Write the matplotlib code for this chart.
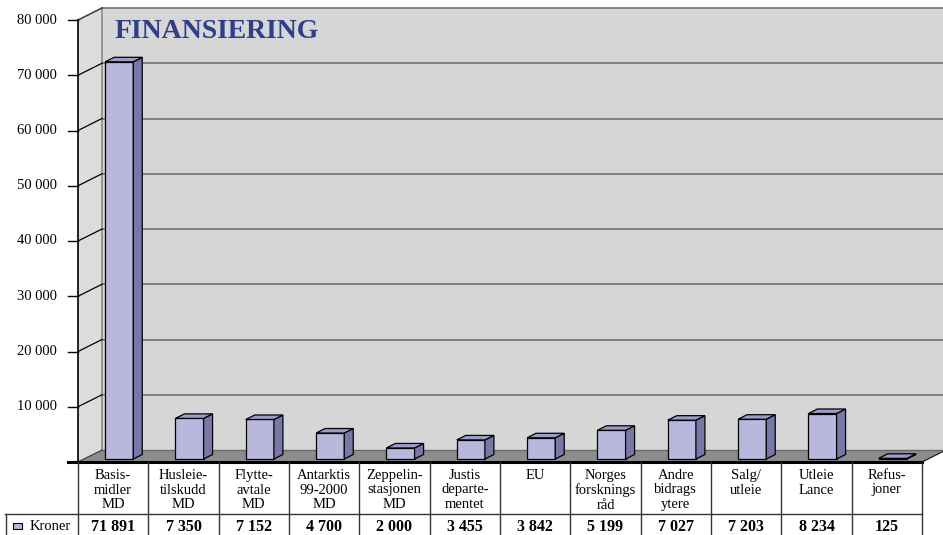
import matplotlib
matplotlib.use("Agg")
import matplotlib.pyplot as plt
from matplotlib.patches import Polygon, Rectangle

# data
categories = [
    "Basis-\nmidler\nMD", "Husleie-\ntilskudd\nMD", "Flytte-\navtale\nMD",
    "Antarktis\n99-2000\nMD", "Zeppelin-\nstasjonen\nMD", "Justis\ndeparte-\nmentet",
    "EU", "Norges\nforsknings\nråd", "Andre\nbidrags\nytere",
    "Salg/\nutleie", "Utleie\nLance", "Refus-\njoner",
]
kroner = [71891, 7350, 7152, 4700, 2000, 3455, 3842, 5199, 7027, 7203, 8234, 125]
value_labels = ["71 891", "7 350", "7 152", "4 700", "2 000", "3 455",
                "3 842", "5 199", "7 027", "7 203", "8 234", "125"]
y_ticks = [0, 10000, 20000, 30000, 40000, 50000, 60000, 70000, 80000]
y_tick_labels = ["", "10 000", "20 000", "30 000", "40 000", "50 000",
                 "60 000", "70 000", "80 000"]
title = "FINANSIERING"
series_name = "Kroner"

W, H = 943, 535
FONT = "Liberation Serif"
FRONT = "#b8b8dc"
SIDE = "#7878a6"
TOP = "#9c9ccc"
WALL = "#d6d6d6"
SIDEWALL = "#dcdcdc"
FLOOR = "#8c8c8c"

# plot area in pixels
PX_L, PX_R, PX_T, PX_B = 78, 922, 20, 462
n = len(categories)
ymax = 80000
px_per_x = (PX_R - PX_L) / n
px_per_y = (PX_B - PX_T) / ymax
# depth of the 3D box (24 px right, 12 px up)
D = 24 / px_per_x
DY = 12 / px_per_y

fig = plt.figure(figsize=(W / 100, H / 100), dpi=100)
fig.patch.set_facecolor("white")
ax = fig.add_axes([PX_L / W, (H - PX_B) / H, (PX_R - PX_L) / W, (PX_B - PX_T) / H])
ax.set_xlim(0, n)
ax.set_ylim(0, ymax)
ax.axis("off")

# side wall and back wall
ax.add_patch(Polygon([(0, 0), (D, DY), (D, ymax + DY), (0, ymax)], closed=True,
                     facecolor=SIDEWALL, edgecolor="none", clip_on=False, zorder=1))
ax.add_patch(Polygon([(D, DY), (n + D, DY), (n + D, ymax + DY), (D, ymax + DY)], closed=True,
                     facecolor=WALL, edgecolor="none", clip_on=False, zorder=1))
ax.plot([D, D], [DY, ymax + DY], color="#8a8a8a", lw=1.2, clip_on=False, zorder=2)
for v in y_ticks[1:]:
    ax.plot([D, n + D], [v + DY, v + DY], color="#7a7a7a", lw=1.3, clip_on=False, zorder=2)
    ax.plot([0, D], [v, v + DY], color="black", lw=0.9, clip_on=False, zorder=2)
ax.plot([0, D], [ymax, ymax + DY], color="#555555", lw=1.0, clip_on=False, zorder=2)

# floor
ax.add_patch(Polygon([(0, 0), (n, 0), (n + D, DY), (D, DY)], closed=True,
                     facecolor=FLOOR, edgecolor="none", clip_on=False, zorder=2))
ax.plot([D, n + D], [DY, DY], color="#6a6a6a", lw=1.0, clip_on=False, zorder=2)
ax.plot([0, D], [0, DY], color="#444444", lw=0.9, clip_on=False, zorder=2)
ax.plot([n, n + D], [0, DY], color="#222222", lw=0.9, clip_on=False, zorder=2)

# bars
bw = 0.4
f0, fd = 0.25, 0.375
for i, v in enumerate(kroner):
    x0 = i + 0.5 - bw / 2 + f0 * D
    y0 = f0 * DY
    top = v + y0
    dx, dy = fd * D, fd * DY
    front = [(x0, y0), (x0 + bw, y0), (x0 + bw, top), (x0, top)]
    side = [(x0 + bw, y0), (x0 + bw + dx, y0 + dy), (x0 + bw + dx, top + dy), (x0 + bw, top)]
    lid = [(x0, top), (x0 + bw, top), (x0 + bw + dx, top + dy), (x0 + dx, top + dy)]
    for poly, col in ((front, FRONT), (side, SIDE), (lid, TOP)):
        ax.add_patch(Polygon(poly, closed=True, facecolor=col, edgecolor="black",
                             lw=0.9, clip_on=False, zorder=3))

# front axis and ticks
ax.plot([0, 0], [0, ymax], color="black", lw=1.2, clip_on=False, zorder=4)
tick_len = 10 / px_per_x
for v, lab in zip(y_ticks, y_tick_labels):
    ax.plot([-tick_len, 0], [v, v], color="black", lw=1.0, clip_on=False, zorder=4)
    ax.text(-21 / px_per_x, v, lab, ha="right", va="center", fontsize=10.5,
            family=FONT, clip_on=False)

# title
fig.text(115 / W, 1 - 31 / H, title, ha="left", va="center", fontsize=20,
         fontweight="bold", family=FONT, color="#2e3d8c")

# data table (pixel overlay)
tab = fig.add_axes([0, 0, 1, 1], zorder=5)
tab.set_xlim(0, W)
tab.set_ylim(H, 0)
tab.axis("off")
tab.patch.set_alpha(0)
row_split = 514
tab.plot([PX_L - 10, PX_R], [PX_B, PX_B], color="black", lw=2.2)
tab.plot([5, PX_R], [row_split, row_split], color="#333333", lw=1.0)
tab.plot([5.5, 5.5], [row_split, H], color="#333333", lw=1.0)
for i in range(n + 1):
    xb = PX_L + i * px_per_x
    tab.plot([xb, xb], [PX_B, H], color="#333333", lw=1.0)
for i, (cat, lab) in enumerate(zip(categories, value_labels)):
    xc = PX_L + (i + 0.5) * px_per_x
    tab.text(xc, 469, cat, ha="center", va="top", fontsize=10.5, family=FONT,
             linespacing=1.15)
    tab.text(xc, 527, lab, ha="center", va="center", fontsize=11.5,
             fontweight="bold", family=FONT)
tab.add_patch(Rectangle((13, 523), 9, 6, facecolor=FRONT, edgecolor="black", lw=0.8))
tab.text(30, 526, series_name, ha="left", va="center", fontsize=10.5, family=FONT)

fig.savefig("out.png", dpi=100)
